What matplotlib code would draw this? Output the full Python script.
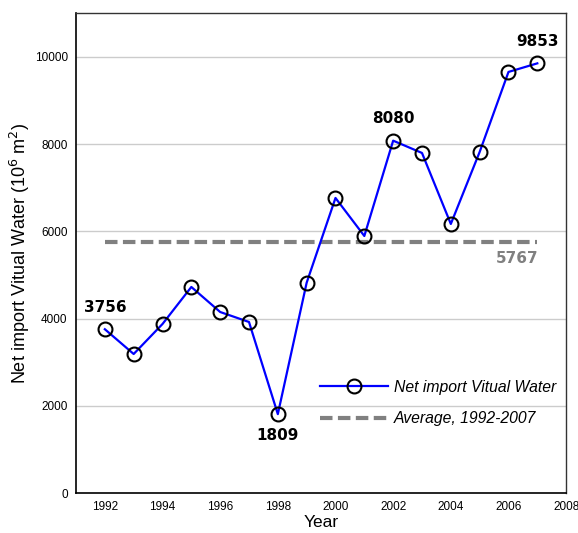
import matplotlib
matplotlib.use("Agg")
import matplotlib.pyplot as plt

years = [1992, 1993, 1994, 1995, 1996, 1997, 1998, 1999,
         2000, 2001, 2002, 2003, 2004, 2005, 2006, 2007]
net_import = [3756, 3188, 3876, 4725, 4151, 3922, 1809, 4823,
              6766, 5894, 8080, 7798, 6170, 7821, 9656, 9853]
average = 5767
x_ticks = [1992, 1994, 1996, 1998, 2000, 2002, 2004, 2006, 2008]
y_ticks = [0, 2000, 4000, 6000, 8000, 10000]

plt.rcParams['font.family'] = ['Liberation Sans', 'DejaVu Sans']

fig = plt.figure(figsize=(5.78, 5.33), dpi=100)
ax = fig.add_axes([0.1315, 0.075, 0.848, 0.9])

ax.plot([years[0], years[-1]], [average, average], color='#808080',
        lw=3, dashes=(3, 1.3), label='Average, 1992-2007', zorder=2)
ax.plot(years, net_import, color='#0000ff', lw=1.6, marker='o', ms=10,
        mfc='none', mec='black', mew=1.5,
        label='Net import Vitual Water', zorder=3)

ax.set_xlim(1991, 2008)
ax.set_ylim(0, 11000)
ax.set_xticks(x_ticks)
ax.set_yticks(y_ticks)
ax.tick_params(length=0, labelsize=8.5, pad=6)
ax.yaxis.grid(True, color='#cccccc', lw=1)
ax.set_axisbelow(True)
for s in ['left', 'bottom']:
    ax.spines[s].set_color('black')
    ax.spines[s].set_linewidth(1.2)
for s in ['top', 'right']:
    ax.spines[s].set_color('#333333')
    ax.spines[s].set_linewidth(1.0)

ax.set_xlabel('Year', fontsize=12.5, labelpad=1)
ax.set_ylabel('Net import Vitual Water (10$^6$ m$^2$)', fontsize=13, labelpad=2)

lab = dict(fontsize=11, fontweight='bold', family='DejaVu Sans', ha='center')
ax.text(1992, 4090, '3756', va='bottom', **lab)
ax.text(1998, 1480, '1809', va='top', **lab)
ax.text(2002, 8420, '8080', va='bottom', **lab)
ax.text(2007, 10180, '9853', va='bottom', **lab)
ax.text(2006.3, 5560, '5767', va='top', color='#808080', **lab)

handles, labels = ax.get_legend_handles_labels()
ax.legend(handles[::-1], labels[::-1], loc='upper left',
          bbox_to_anchor=(0.498, 0.236), frameon=False, handlelength=4.3,
          borderaxespad=0, borderpad=0,
          prop={'family': ['Liberation Sans'], 'style': 'italic', 'size': 11.3},
          labelspacing=1.05, handletextpad=0.4)

fig.savefig('out.png', dpi=100)
